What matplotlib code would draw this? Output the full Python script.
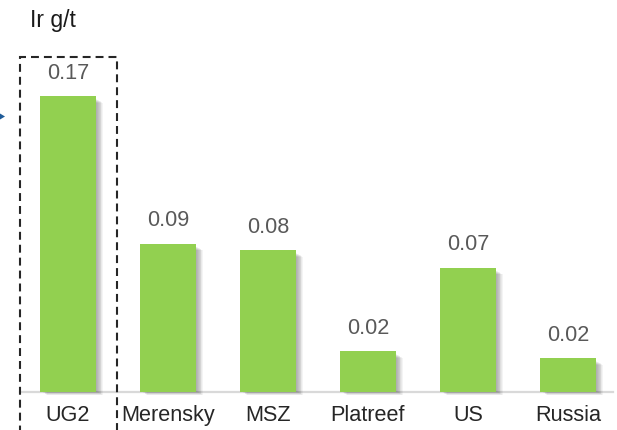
import matplotlib
matplotlib.use("Agg")
import matplotlib.pyplot as plt
from matplotlib.patches import Rectangle, Polygon

categories = ["UG2", "Merensky", "MSZ", "Platreef", "US", "Russia"]
values = [0.17, 0.0851, 0.0814, 0.0233, 0.0713, 0.0193]
unit_label = "Ir g/t"

plt.rcParams['font.family'] = ['Liberation Sans', 'DejaVu Sans']

W, H = 617, 430
fig = plt.figure(figsize=(W / 100, H / 100), dpi=100)
ax = fig.add_axes([0, 0, 1, 1])
ax.set_axis_off()

px_x = 100.0            # pixels per category unit
px_y = 1738.0           # pixels per value unit
x0_px, base_px = 68.0, 38.5
xmin = -x0_px / px_x
ymin = -base_px / px_y
ax.set_xlim(xmin, xmin + W / px_x)
ax.set_ylim(ymin, ymin + H / px_y)

bar_w = 0.56
green = "#92D050"
dx = 1 / px_x
dy = 1 / px_y

# shadows
for i, v in enumerate(values):
    for k in range(1, 9):
        ax.add_patch(Rectangle((i - bar_w / 2 + k * dx * 0.9, -k * dy * 0.45),
                               bar_w, v - 3 * dy, facecolor="#000000",
                               alpha=0.045, edgecolor="none", zorder=2))

ax.bar(range(len(values)), values, width=bar_w, color=green, zorder=3)

# baseline
ax.plot([xmin + 20 * dx, xmin + 613 * dx], [0, 0], color="#D9D9D9", lw=1.6, zorder=1)

for i, (c, v) in enumerate(zip(categories, values)):
    ax.annotate(f"{v:.2f}", (i, v), xytext=(0, 16.3), textcoords="offset points",
                ha="center", va="center", fontsize=15.6, color="#595959", zorder=5)
    ax.annotate(c, (i, 0), xytext=(0, -17.6), textcoords="offset points",
                ha="center", va="center", fontsize=15.6, color="#262626", zorder=5)

# dashed highlight box around first category
top_y = ymin + (H - 57) / px_y
ax.add_patch(Rectangle((xmin + 20 * dx, ymin - 0.01), 97 * dx, top_y - ymin + 0.01,
                       fill=False, edgecolor="#262626", lw=1.5,
                       linestyle=(0, (3.8, 2.4)), zorder=6, clip_on=False))

fig.text(30 / W, 1 - 20 / H, unit_label, ha="left", va="center", fontsize=16.5, color="#1a1a1a")

# small arrow tip at left edge
fig.patches.append(Polygon([(0 / W, 1 - 113.5 / H), (5 / W, 1 - 116.5 / H), (0 / W, 1 - 119.5 / H)],
                           closed=True, transform=fig.transFigure, facecolor="#1F5C99",
                           edgecolor="none", figure=fig))

fig.savefig("out.png", dpi=100)
